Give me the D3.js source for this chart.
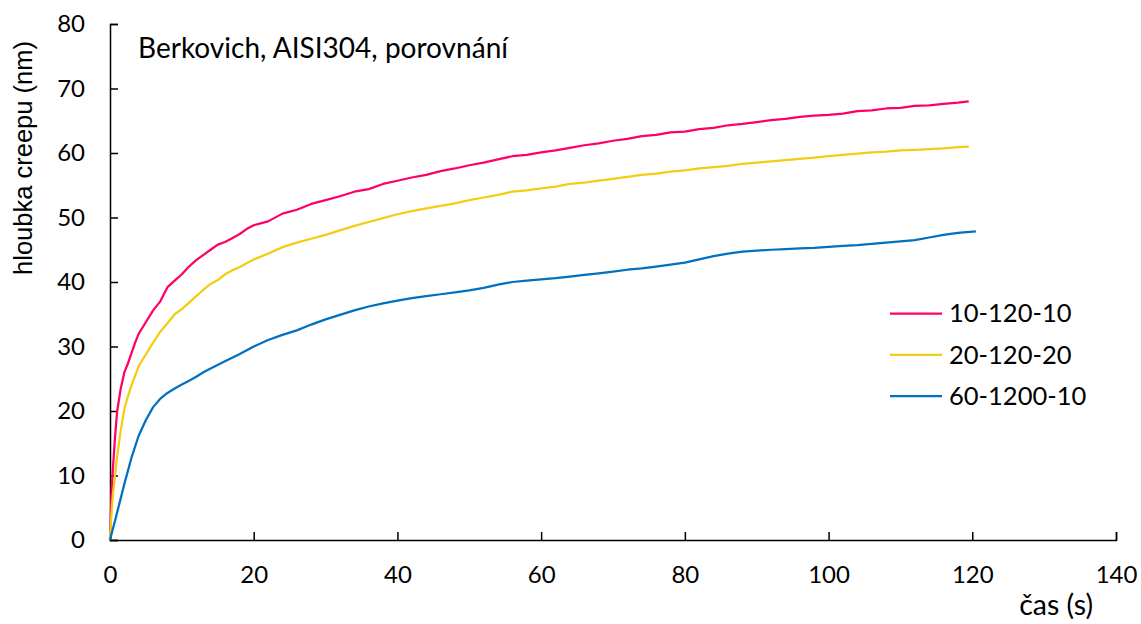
<!DOCTYPE html>
<html>
<head>
<meta charset="utf-8">
<script src="https://cdn.jsdelivr.net/npm/d3@7"></script>
<style>
  html, body { margin: 0; padding: 0; background: #fff; }
  svg { display: block; }
  text { font-family: Lato, "Open Sans", sans-serif; fill: #000; }
</style>
</head>
<body>
<svg id="chart" width="1141" height="624"></svg>
<script>
// Creep depth vs. time for three loading regimes
const seriesNames = ["10-120-10", "20-120-20", "60-1200-10"];
const seriesColors = ["#ff0066", "#f2cd13", "#0070c0"];

const timeA = [0, 0.2, 0.4, 0.7, 1, 1.5, 2, 2.5, 3, 3.5, 4, 5, 6, 7, 8, 9, 10, 11, 12, 13, 14, 15, 16, 17, 18, 19, 20,
  22, 24, 26, 28, 30, 32, 34, 36, 38, 40, 42, 44, 46, 48, 50, 52, 54, 56, 58, 60, 62, 64, 66, 68, 70, 72, 74, 76, 78,
  80, 82, 84, 86, 88, 90, 92, 94, 96, 98, 100, 102, 104, 106, 108, 110, 112, 114, 116, 118, 119.5];

const depth10 = [0, 7, 11, 16, 20, 23.5, 26, 27.4, 29, 30.6, 32, 33.8, 35.6, 37, 39.2, 40.2, 41.2, 42.4, 43.4, 44.2, 45, 45.8, 46.2, 46.8, 47.4, 48.2, 48.8,
  49.4, 50.6, 51.2, 52.1, 52.7, 53.3, 54.0, 54.4, 55.2, 55.7, 56.2, 56.6, 57.2, 57.6, 58.1, 58.5, 59.0, 59.5, 59.7, 60.1, 60.4, 60.8, 61.2, 61.5, 61.9, 62.2, 62.6, 62.8, 63.2,
  63.3, 63.7, 63.9, 64.3, 64.5, 64.8, 65.1, 65.3, 65.6, 65.8, 65.9, 66.1, 66.5, 66.6, 66.9, 67.0, 67.3, 67.4, 67.6, 67.8, 68.0];

const depth20 = [0, 4, 7, 10, 13, 17, 20.3, 22.3, 24, 25.5, 27, 28.8, 30.6, 32.3, 33.6, 35.0, 35.8, 36.8, 37.8, 38.8, 39.7, 40.3, 41.2, 41.8, 42.3, 42.9, 43.5,
  44.4, 45.4, 46.1, 46.7, 47.3, 48.0, 48.7, 49.3, 49.9, 50.5, 51.0, 51.4, 51.8, 52.2, 52.7, 53.1, 53.5, 54.0, 54.2, 54.5, 54.8, 55.2, 55.4, 55.7, 56.0, 56.3, 56.6, 56.8, 57.1,
  57.3, 57.6, 57.8, 58.0, 58.3, 58.5, 58.7, 58.9, 59.1, 59.3, 59.5, 59.7, 59.9, 60.1, 60.2, 60.4, 60.5, 60.6, 60.7, 60.9, 61.0];

const timeB = [0, 1, 2, 3, 4, 5, 6, 7, 8, 9, 10, 11, 12, 13, 14, 16, 18, 20, 22, 24, 26, 28, 30, 32, 34, 36, 38, 40,
  42, 44, 46, 48, 50, 52, 54, 56, 58, 60, 62, 64, 66, 68, 70, 72, 74, 76, 78, 80, 82, 84, 86, 88, 90, 92, 94, 96, 98,
  100, 102, 104, 106, 108, 110, 112, 114, 116, 118, 120.5];

const depth60 = [0, 4.3, 8.7, 12.8, 16.2, 18.6, 20.6, 21.9, 22.8, 23.5, 24.1, 24.7, 25.3, 26.0, 26.6, 27.7, 28.8, 30.0, 31.0, 31.8, 32.5, 33.4, 34.2, 34.9, 35.6, 36.2, 36.7, 37.1,
  37.5, 37.8, 38.1, 38.4, 38.7, 39.1, 39.6, 40.0, 40.2, 40.4, 40.6, 40.85, 41.1, 41.35, 41.6, 41.9, 42.1, 42.4, 42.7, 43.0, 43.5, 44.0, 44.4, 44.7, 44.85, 45.0, 45.1, 45.2, 45.3,
  45.45, 45.6, 45.7, 45.9, 46.1, 46.3, 46.5, 46.9, 47.3, 47.6, 47.85];

const xTicks = [0, 20, 40, 60, 80, 100, 120, 140];
const yTicks = [0, 10, 20, 30, 40, 50, 60, 70, 80];

const series = [
  { name: seriesNames[0], color: seriesColors[0], t: timeA, v: depth10 },
  { name: seriesNames[1], color: seriesColors[1], t: timeA, v: depth20 },
  { name: seriesNames[2], color: seriesColors[2], t: timeB, v: depth60 }
];

const svg = d3.select("#chart");
const margin = { left: 110, right: 25, top: 24, bottom: 84 };
const W = 1141, H = 624;

const x = d3.scaleLinear().domain([0, 140]).range([margin.left, W - margin.right]);
const y = d3.scaleLinear().domain([0, 80]).range([H - margin.bottom, margin.top]);

// axes: ticks point inward
const xAxis = d3.axisBottom(x).tickValues(xTicks).tickSizeInner(-8).tickSizeOuter(-8);
const yAxis = d3.axisLeft(y).tickValues(yTicks).tickSizeInner(-8).tickSizeOuter(-8).tickPadding(25);

const gx = svg.append("g").attr("transform", `translate(0,${y(0)})`).call(xAxis);
const gy = svg.append("g").attr("transform", `translate(${x(0)},0)`).call(yAxis);

[gx, gy].forEach(g => {
  g.selectAll("path.domain").attr("stroke", "#000").attr("stroke-width", 1.5);
  g.selectAll(".tick line").attr("stroke", "#000").attr("stroke-width", 1.5);
  g.selectAll(".tick text").style("font-size", "24px").attr("fill", "#000");
});
gx.selectAll(".tick text").attr("y", 43).attr("dy", 0);

// curves
const line = d3.line().x(d => x(d[0])).y(d => y(d[1]));
series.forEach(s => {
  svg.append("path")
    .datum(s.t.map((t, i) => [t, s.v[i]]))
    .attr("fill", "none")
    .attr("stroke", s.color)
    .attr("stroke-width", 2.25)
    .attr("stroke-linejoin", "round")
    .attr("d", line);
});

// title inside plot
svg.append("text").attr("x", 138).attr("y", 58).style("font-size", "28px")
  .attr("textLength", 370).attr("lengthAdjust", "spacing")
  .text("Berkovich, AISI304, porovnání");

// axis titles
svg.append("text").attr("transform", "translate(32,158) rotate(-90)")
  .attr("text-anchor", "middle")
  .style("font-family", "'Liberation Sans', Arial, sans-serif")
  .style("font-size", "25.5px").text("hloubka creepu (nm)");
svg.append("text").attr("x", 1093).attr("y", 615).attr("text-anchor", "end")
  .style("font-size", "28.5px").text("čas (s)");

// legend
const legend = svg.append("g");
series.forEach((s, i) => {
  const ly = 313.5 + i * 41.3;
  legend.append("line").attr("x1", 890).attr("x2", 942).attr("y1", ly).attr("y2", ly)
    .attr("stroke", s.color).attr("stroke-width", 2.25);
  legend.append("text").attr("x", 949).attr("y", ly).attr("dy", "0.35em")
    .style("font-size", "25.5px").text(s.name);
});
</script>
</body>
</html>
